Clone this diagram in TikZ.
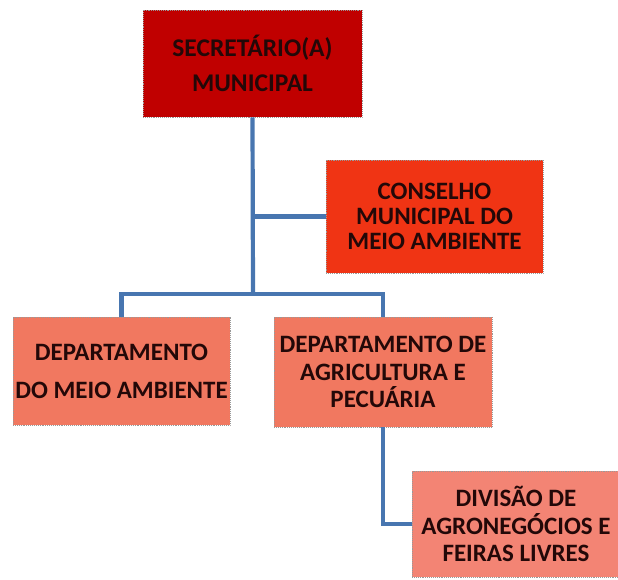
\documentclass[tikz,border=0pt]{standalone}
\usepackage{fontspec}
\setmainfont{Carlito}
\definecolor{secred}{RGB}{192,0,0}
\definecolor{consred}{RGB}{240,52,20}
\definecolor{deptsalmon}{RGB}{241,120,96}
\definecolor{divpink}{RGB}{243,132,116}
\definecolor{linkblue}{RGB}{72,118,176}
\definecolor{boxtext}{RGB}{35,8,8}
\tikzset{
  orgbox/.style={draw=gray!80, densely dotted, line width=0.9pt, text=boxtext,
    align=center, inner sep=0pt},
  link/.style={draw=linkblue, line width=4.2pt}
}
\begin{document}
\begin{tikzpicture}[x=1pt,y=-1pt]
    \useasboundingbox (0,0) rectangle (618,579);
    % boxes
    \node [orgbox, fill=secred, minimum width=219pt, minimum height=107pt,
      font=\bfseries\fontsize{25.5}{35}\selectfont] (sec) at (252.5,63.5)
      {SECRETÁRIO(A)\\MUNICIPAL};
    \node [orgbox, fill=consred, minimum width=217pt, minimum height=113pt,
      font=\bfseries\fontsize{25}{25}\selectfont] (cons) at (434.5,216.5)
      {CONSELHO\\MUNICIPAL DO\\MEIO AMBIENTE};
    \node [orgbox, fill=deptsalmon, minimum width=217pt, minimum height=108pt,
      font=\bfseries\fontsize{25}{38}\selectfont] (dma) at (121.5,371)
      {DEPARTAMENTO\\DO MEIO AMBIENTE};
    \node [orgbox, fill=deptsalmon, minimum width=218pt, minimum height=110pt,
      font=\bfseries\fontsize{25}{27.5}\selectfont] (dap) at (383,372)
      {DEPARTAMENTO DE\\AGRICULTURA E\\PECUÁRIA};
    \node [orgbox, fill=divpink, minimum width=208pt, minimum height=106pt,
      font=\bfseries\fontsize{25}{27.5}\selectfont] (div) at (516,524)
      {DIVISÃO DE\\AGRONEGÓCIOS E\\FEIRAS LIVRES};
    % connectors
    \coordinate (bus) at (253,294);
    \draw [link] (sec.south) -- (bus);
    \draw [link] (sec.south |- cons.west) -- (cons.west);
    \draw [link] (bus) -| (dma.north);
    \draw [link] (bus) -| (dap.north);
    \draw [link] (dap.south) |- (div.west);
\end{tikzpicture}
\end{document}
